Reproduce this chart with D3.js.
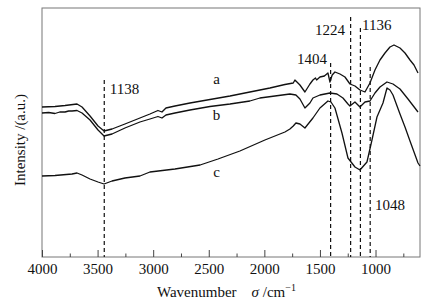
<!DOCTYPE html>
<html>
<head>
<meta charset="utf-8">
<script src="https://cdn.jsdelivr.net/npm/d3@7"></script>
<style>
  html, body { margin: 0; padding: 0; background: #fff; }
  svg text { font-family: "Liberation Serif", "Times New Roman", serif; fill: #111; }
</style>
</head>
<body>
<svg id="chart" width="438" height="306"></svg>
<script>
// ---- data ----
const aWave = [4000, 3883, 3793, 3685, 3640, 3568, 3496, 3442, 3370, 3254, 3119, 3029, 2957, 2921, 2885, 2804, 2669, 2489, 2309, 2130, 2040, 1950, 1815, 1740, 1725, 1716, 1680, 1635, 1590, 1563, 1540, 1530, 1500, 1460, 1428, 1410, 1390, 1365, 1320, 1275, 1230, 1185, 1140, 1095, 1050, 1005, 960, 915, 870, 834, 780, 735, 690, 654, 618];
const aInt  = [150, 150.5, 151.5, 153, 150, 141, 131, 126, 128, 133, 139, 143, 146.5, 145, 149, 151, 154, 157.5, 161, 165, 167, 169, 172.5, 174, 177, 176, 172, 165, 173, 177, 179, 177, 180, 181, 184, 175, 182, 185, 183, 180, 173, 171, 167, 165, 174, 187, 197, 204, 210, 212, 209, 204, 197, 192, 184];

const bWave = [4000, 3940, 3883, 3840, 3793, 3760, 3730, 3685, 3640, 3568, 3496, 3442, 3370, 3254, 3119, 3029, 2957, 2921, 2885, 2804, 2669, 2489, 2309, 2130, 2040, 1770, 1716, 1680, 1635, 1590, 1563, 1500, 1410, 1347, 1293, 1248, 1230, 1185, 1140, 1095, 1050, 1005, 960, 897, 843, 780, 708, 618];
const bInt  = [144, 144.5, 143.5, 145, 145, 146, 146, 146.5, 144, 137, 127, 121, 123, 129, 135, 138, 140.5, 139, 142, 144, 147, 150.5, 153, 156, 159, 163, 162, 158, 149, 154, 159, 162, 164, 163, 159, 153, 151, 155, 150, 155, 156, 164, 170, 175, 173, 168, 158, 145];

const cWave = [4000, 3883, 3730, 3685, 3640, 3568, 3496, 3442, 3370, 3254, 3119, 3029, 2804, 2578, 2417, 2220, 1995, 1815, 1770, 1740, 1716, 1680, 1635, 1563, 1500, 1428, 1401, 1365, 1302, 1248, 1185, 1140, 1077, 1032, 987, 933, 897, 870, 843, 780, 735, 690, 654, 618, 600];
const cInt  = [81, 81.5, 83, 84, 82, 78, 75, 73, 76, 79, 81, 85, 88, 92, 98, 106, 117, 125, 128, 131, 134, 133, 129, 139, 149, 156, 155, 149, 124, 99, 90, 87, 95, 117, 140, 154, 169, 167, 162, 143, 130, 116, 105, 94, 91];

const seriesNames = ["a", "b", "c"];
const majorTicks = [4000, 3500, 3000, 2500, 2000, 1500, 1000];
const minorTicks = [3750, 3250, 2750, 2250, 1750, 1250, 750];

// marker lines: position (cm^-1), label text, top intensity
const markWave  = [3440, 1404, 1224, 1136, 1048];
const markLabel = ["1138", "1404", "1224", "1136", "1048"];
const markTop   = [177, 194, 240, 229, 190];

// ---- layout ----
const svg = d3.select("#chart");
const L = 42, R = 420, T = 8, B = 257;

const x = d3.scaleLinear().domain([4000, 600]).range([L, R]);
const y = d3.scaleLinear().domain([0, 249]).range([B, T]);

// frame
svg.append("rect")
  .attr("x", L).attr("y", T).attr("width", R - L).attr("height", B - T)
  .attr("fill", "none").attr("stroke", "#777").attr("stroke-width", 1);

// axes
const gx = svg.append("g").attr("transform", `translate(0,${B})`)
  .call(d3.axisBottom(x).tickValues(majorTicks).tickSize(-7).tickPadding(6).tickFormat(d3.format("d")));
gx.select(".domain").remove();
gx.selectAll("line").attr("stroke", "#444");
gx.selectAll("text").style("font-size", "15px").attr("fill", "#111");

const gm = svg.append("g").attr("transform", `translate(0,${B})`)
  .call(d3.axisBottom(x).tickValues(minorTicks).tickSize(-3.5).tickFormat(""));
gm.select(".domain").remove();
gm.selectAll("line").attr("stroke", "#444");

// dashed marker lines
markWave.forEach((w, i) => {
  svg.append("line")
    .attr("x1", x(w)).attr("x2", x(w))
    .attr("y1", y(markTop[i])).attr("y2", B)
    .attr("stroke", "#111").attr("stroke-width", 1.2)
    .attr("stroke-dasharray", "4,3");
});

// spectra
const line = d3.line().x(d => x(d[0])).y(d => y(d[1]));
const series = [
  d3.zip(aWave, aInt),
  d3.zip(bWave, bInt),
  d3.zip(cWave, cInt)
];
series.forEach(s => {
  svg.append("path").datum(s)
    .attr("d", line)
    .attr("fill", "none")
    .attr("stroke", "#111")
    .attr("stroke-width", 1.3)
    .attr("stroke-linejoin", "round");
});

// series letters
const letterPos = [[2430, 173], [2430, 137], [2430, 80]];
seriesNames.forEach((n, i) => {
  svg.append("text").attr("x", x(letterPos[i][0])).attr("y", y(letterPos[i][1]))
    .attr("text-anchor", "middle").style("font-size", "15px").text(n);
});

// marker labels
const labelPos = [[3390, 163], [1707, 193], [1545, 222], [1122, 227], [1005, 47]];
markLabel.forEach((t, i) => {
  svg.append("text").attr("x", x(labelPos[i][0])).attr("y", y(labelPos[i][1]))
    .style("font-size", "15px").text(t);
});

// axis titles
svg.append("text")
  .attr("transform", `translate(25,140) rotate(-90)`)
  .attr("text-anchor", "middle")
  .style("font-size", "15px")
  .text("Intensity /(a.u.)");

const xt = svg.append("text").attr("x", 157).attr("y", 297).style("font-size", "15px");
xt.append("tspan").text("Wavenumber");
xt.append("tspan").attr("dx", 15).style("font-style", "italic").text("σ");
xt.append("tspan").text(" /cm");
xt.append("tspan").attr("dy", -6).style("font-size", "10px").text("−1");
</script>
</body>
</html>
